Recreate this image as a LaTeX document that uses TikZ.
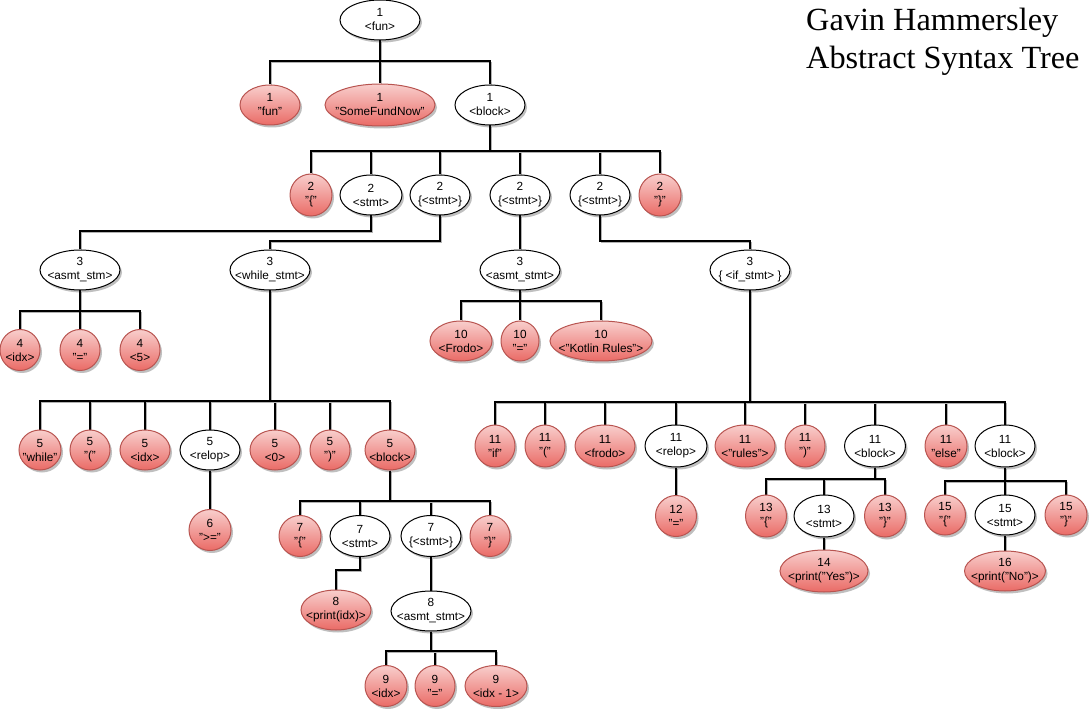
\documentclass[tikz,border=0pt]{standalone}
\usepackage{fontspec}
\setmainfont{Liberation Sans}
\newfontfamily\titlefont{Liberation Serif}
\usetikzlibrary{shapes.geometric,shadows,backgrounds}
\definecolor{rtop}{HTML}{F8CECC}
\definecolor{rbot}{HTML}{EA6B66}
\definecolor{rline}{HTML}{B85450}
\tikzset{
  ovalbase/.style={ellipse, inner sep=0pt, line width=1pt,
    drop shadow={shadow xshift=2pt, shadow yshift=-2.5pt, opacity=0.25, fill=black}},
  rnode/.style={ovalbase, draw=rline, top color=rtop, bottom color=rbot},
  wnode/.style={ovalbase, draw=black, fill=white},
  lbl/.style={align=center, inner sep=0pt, font=\fontsize{11.8}{14}\selectfont},
  edge/.style={draw=black, line width=1.3pt},
  edgesh/.style={draw=black!30, line width=1.3pt, transform canvas={xshift=1.5pt, yshift=-1.5pt}},
  ttl/.style={anchor=base west, inner sep=0pt, font=\titlefont\fontsize{32.3}{38}\selectfont}
}
\newcommand{\ND}[8]{%
  \node[#6, minimum width=#4pt, minimum height=#5pt] (#1) at (#2,#3) {};
  \node[lbl] (#1-t) at (#1.center) {#7\\#8};
}
\newcommand{\ED}[3]{%
  \draw[edgesh] (#1.south) -- (#1.south |- 0,#3) -| (#2.north);
  \draw[edge] (#1.south) -- (#1.south |- 0,#3) -| (#2.north);
}
\begin{document}
\begin{tikzpicture}[x=1pt,y=-1pt]
\useasboundingbox (0,0) rectangle (1090,711);
% title
\node[ttl] (title1) at (806,31) {Gavin Hammersley};
\node[ttl] (title2) at (806,69) {Abstract Syntax Tree};
% level 0/1
\ND{n1}{380}{20}{80}{40}{wnode}{1}{<fun>}
\ND{n2}{270}{105}{60}{40}{rnode}{1}{"fun"}
\ND{n3}{380}{105}{110}{42}{rnode}{1}{"SomeFundNow"}
\ND{n4}{490}{105}{70}{40}{wnode}{1}{<block>}
% level 2
\ND{n5}{311}{195}{42}{42}{rnode}{2}{"\{"}
\ND{n6}{371}{195}{62}{40}{wnode}{2}{<stmt>}
\ND{n7}{440}{195}{60}{40}{wnode}{2}{\{<stmt>\}}
\ND{n8}{520}{195}{60}{40}{wnode}{2}{\{<stmt>\}}
\ND{n9}{600}{195}{60}{40}{wnode}{2}{\{<stmt>\}}
\ND{n10}{660}{195}{42}{42}{rnode}{2}{"\}"}
% level 3
\ND{n11}{80}{270}{80}{40}{wnode}{3}{<asmt\_stm>}
\ND{n12}{270}{270}{80}{40}{wnode}{3}{<while\_stmt>}
\ND{n13}{520}{270}{80}{40}{wnode}{3}{<asmt\_stmt>}
\ND{n14}{750}{270}{80}{40}{wnode}{3}{\{ <if\_stmt> \}}
% level 4
\ND{n15}{20}{350}{40}{41}{rnode}{4}{<idx>}
\ND{n16}{80}{350}{40}{41}{rnode}{4}{"="}
\ND{n17}{140}{350}{40}{41}{rnode}{4}{<5>}
\ND{n18}{461}{341}{62}{40}{rnode}{10}{<Frodo>}
\ND{n19}{520}{341}{38}{40}{rnode}{10}{"="}
\ND{n20}{601}{341}{102}{40}{rnode}{10}{<"Kotlin Rules">}
% level 5 (while)
\ND{n21}{40}{450}{42}{40}{rnode}{5}{"while"}
\ND{n22}{90}{450}{40}{40}{rnode}{5}{"("}
\ND{n23}{145}{450}{50}{40}{rnode}{5}{<idx>}
\ND{n24}{210}{450}{60}{40}{wnode}{5}{<relop>}
\ND{n25}{275}{450}{50}{40}{rnode}{5}{<0>}
\ND{n26}{330}{450}{40}{40}{rnode}{5}{")"}
\ND{n27}{390}{450}{50}{40}{rnode}{5}{<block>}
% level 5 (if)
\ND{n28}{495}{446}{40}{42}{rnode}{11}{"if"}
\ND{n29}{545}{446}{40}{42}{rnode}{11}{"("}
\ND{n30}{605}{446}{60}{42}{rnode}{11}{<frodo>}
\ND{n31}{676}{446}{62}{42}{wnode}{11}{<relop>}
\ND{n32}{745}{446}{60}{42}{rnode}{11}{<"rules">}
\ND{n33}{805}{446}{40}{42}{rnode}{11}{")"}
\ND{n34}{875}{446}{61}{42}{wnode}{11}{<block>}
\ND{n35}{946}{446}{42}{42}{rnode}{11}{"else"}
\ND{n36}{1005}{446}{60}{42}{wnode}{11}{<block>}
% level 6
\ND{n37}{210}{530}{42}{41}{rnode}{6}{">="}
\ND{n38}{300}{536}{42}{41}{rnode}{7}{"\{"}
\ND{n39}{360}{536}{60}{41}{wnode}{7}{<stmt>}
\ND{n40}{431}{536}{60}{41}{wnode}{7}{\{<stmt>\}}
\ND{n41}{490}{536}{40}{41}{rnode}{7}{"\}"}
\ND{n42}{676}{516}{41}{41}{rnode}{12}{"="}
\ND{n43}{766}{516}{41}{42}{rnode}{13}{"\{"}
\ND{n44}{824}{516}{60}{42}{wnode}{13}{<stmt>}
\ND{n45}{885}{516}{41}{42}{rnode}{13}{"\}"}
\ND{n46}{945}{515}{41}{40}{rnode}{15}{"\{"}
\ND{n47}{1005}{515}{60}{40}{wnode}{15}{<stmt>}
\ND{n48}{1066}{515}{42}{40}{rnode}{15}{"\}"}
% level 7
\ND{n49}{336}{610}{70}{40}{rnode}{8}{<print(idx)>}
\ND{n50}{431}{611}{80}{40}{wnode}{8}{<asmt\_stmt>}
\ND{n51}{824}{571}{88}{42}{rnode}{14}{<print("Yes")>}
\ND{n52}{1005}{571}{81}{40}{rnode}{16}{<print("No")>}
% level 8
\ND{n53}{386}{686}{42}{41}{rnode}{9}{<idx>}
\ND{n54}{435}{686}{40}{41}{rnode}{9}{"="}
\ND{n55}{496}{686}{62}{41}{rnode}{9}{<idx - 1>}
% connectors
\begin{scope}[on background layer]
\ED{n1}{n2}{61}\ED{n1}{n3}{61}\ED{n1}{n4}{61}
\ED{n4}{n5}{151}\ED{n4}{n6}{151}\ED{n4}{n7}{151}
\ED{n4}{n8}{151}\ED{n4}{n9}{151}\ED{n4}{n10}{151}
\ED{n6}{n11}{231}\ED{n7}{n12}{241}\ED{n8}{n13}{241}\ED{n9}{n14}{241}
\ED{n11}{n15}{311}\ED{n11}{n16}{311}\ED{n11}{n17}{311}
\ED{n13}{n18}{301}\ED{n13}{n19}{301}\ED{n13}{n20}{301}
\ED{n12}{n21}{401}\ED{n12}{n22}{401}\ED{n12}{n23}{401}\ED{n12}{n24}{401}
\ED{n12}{n25}{401}\ED{n12}{n26}{401}\ED{n12}{n27}{401}
\ED{n14}{n28}{402}\ED{n14}{n29}{402}\ED{n14}{n30}{402}\ED{n14}{n31}{402}
\ED{n14}{n32}{402}\ED{n14}{n33}{402}\ED{n14}{n34}{402}\ED{n14}{n35}{402}
\ED{n14}{n36}{402}
\ED{n24}{n37}{490}
\ED{n27}{n38}{501}\ED{n27}{n39}{501}\ED{n27}{n40}{501}\ED{n27}{n41}{501}
\ED{n39}{n49}{570}
\ED{n40}{n50}{575}
\ED{n50}{n53}{651}\ED{n50}{n54}{651}\ED{n50}{n55}{651}
\ED{n31}{n42}{480}
\ED{n34}{n43}{479}\ED{n34}{n44}{479}\ED{n34}{n45}{479}
\ED{n36}{n46}{481}\ED{n36}{n47}{481}\ED{n36}{n48}{481}
\ED{n44}{n51}{545}
\ED{n47}{n52}{543}
\end{scope}
\end{tikzpicture}
\end{document}
